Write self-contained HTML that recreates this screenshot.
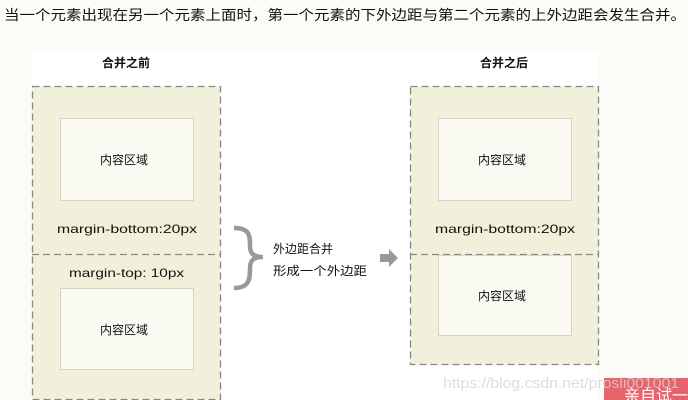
<!DOCTYPE html>
<html><head><meta charset="utf-8"><style>
html,body{margin:0;padding:0;width:688px;height:400px;overflow:hidden;background:#fbfcf7;}
svg{display:block}
</style></head><body>
<svg width="688" height="400" xmlns="http://www.w3.org/2000/svg" font-family="Liberation Sans, Noto Sans CJK SC, sans-serif">
<text x="4" y="20" font-size="14" fill="#111" textLength="682" lengthAdjust="spacingAndGlyphs">当一个元素出现在另一个元素上面时，第一个元素的下外边距与第二个元素的上外边距会发生合并。</text>
<rect x="32" y="52" width="566" height="348" fill="#fff"/>
<text x="126" y="67" font-size="12" font-weight="bold" text-anchor="middle" fill="#111">合并之前</text>
<text x="504" y="67" font-size="12" font-weight="bold" text-anchor="middle" fill="#111">合并之后</text>
<g stroke="#888" stroke-width="1.3" stroke-dasharray="7,4">
<rect x="32.5" y="86.5" width="188" height="313" fill="#f0f0db"/>
<line x1="32" y1="254.5" x2="220" y2="254.5"/>
<rect x="410.5" y="86.5" width="188" height="278" fill="#f0f0db"/>
<line x1="410" y1="254.5" x2="598" y2="254.5"/>
</g>
<g fill="#fafaf2" stroke="#d4d4cc" stroke-width="1">
<rect x="60.5" y="118.5" width="133" height="82"/>
<rect x="60.5" y="288.5" width="133" height="81"/>
<rect x="438.5" y="118.5" width="133" height="82"/>
<rect x="438.5" y="255.5" width="133" height="80"/>
</g>
<g font-size="12" fill="#111">
<text x="100" y="164">内容区域</text>
<text x="100" y="334">内容区域</text>
<text x="478" y="164">内容区域</text>
<text x="478" y="300">内容区域</text>
<text x="57" y="233" textLength="140" lengthAdjust="spacingAndGlyphs">margin-bottom:20px</text>
<text x="69" y="277" textLength="115" lengthAdjust="spacingAndGlyphs">margin-top: 10px</text>
<text x="435" y="233" textLength="140" lengthAdjust="spacingAndGlyphs">margin-bottom:20px</text>
</g>
<path d="M234,228 C250,228 250,236 250,246 C250,254 254,257 263,257 C254,257 250,260 250,268 C250,278 250,288 234,288" fill="none" stroke="#999" stroke-width="4.5"/>
<text x="273" y="253" font-size="12" fill="#111" textLength="60" lengthAdjust="spacingAndGlyphs">外边距合并</text>
<text x="273" y="275" font-size="12" fill="#111" textLength="94" lengthAdjust="spacingAndGlyphs">形成一个外边距</text>
<polygon points="380,254 389,254 389,249 398,258 389,267 389,262 380,262" fill="#999"/>
<rect x="604" y="378" width="84" height="22" fill="#e8636b"/>
<text x="624" y="401" font-size="16" fill="#fff">亲自试一</text>
<text x="443" y="388" font-size="15" fill="#d4d4d4" fill-opacity="0.8" textLength="236" lengthAdjust="spacingAndGlyphs">https://blog.csdn.net/prosli001001</text>
</svg>
</body></html>
